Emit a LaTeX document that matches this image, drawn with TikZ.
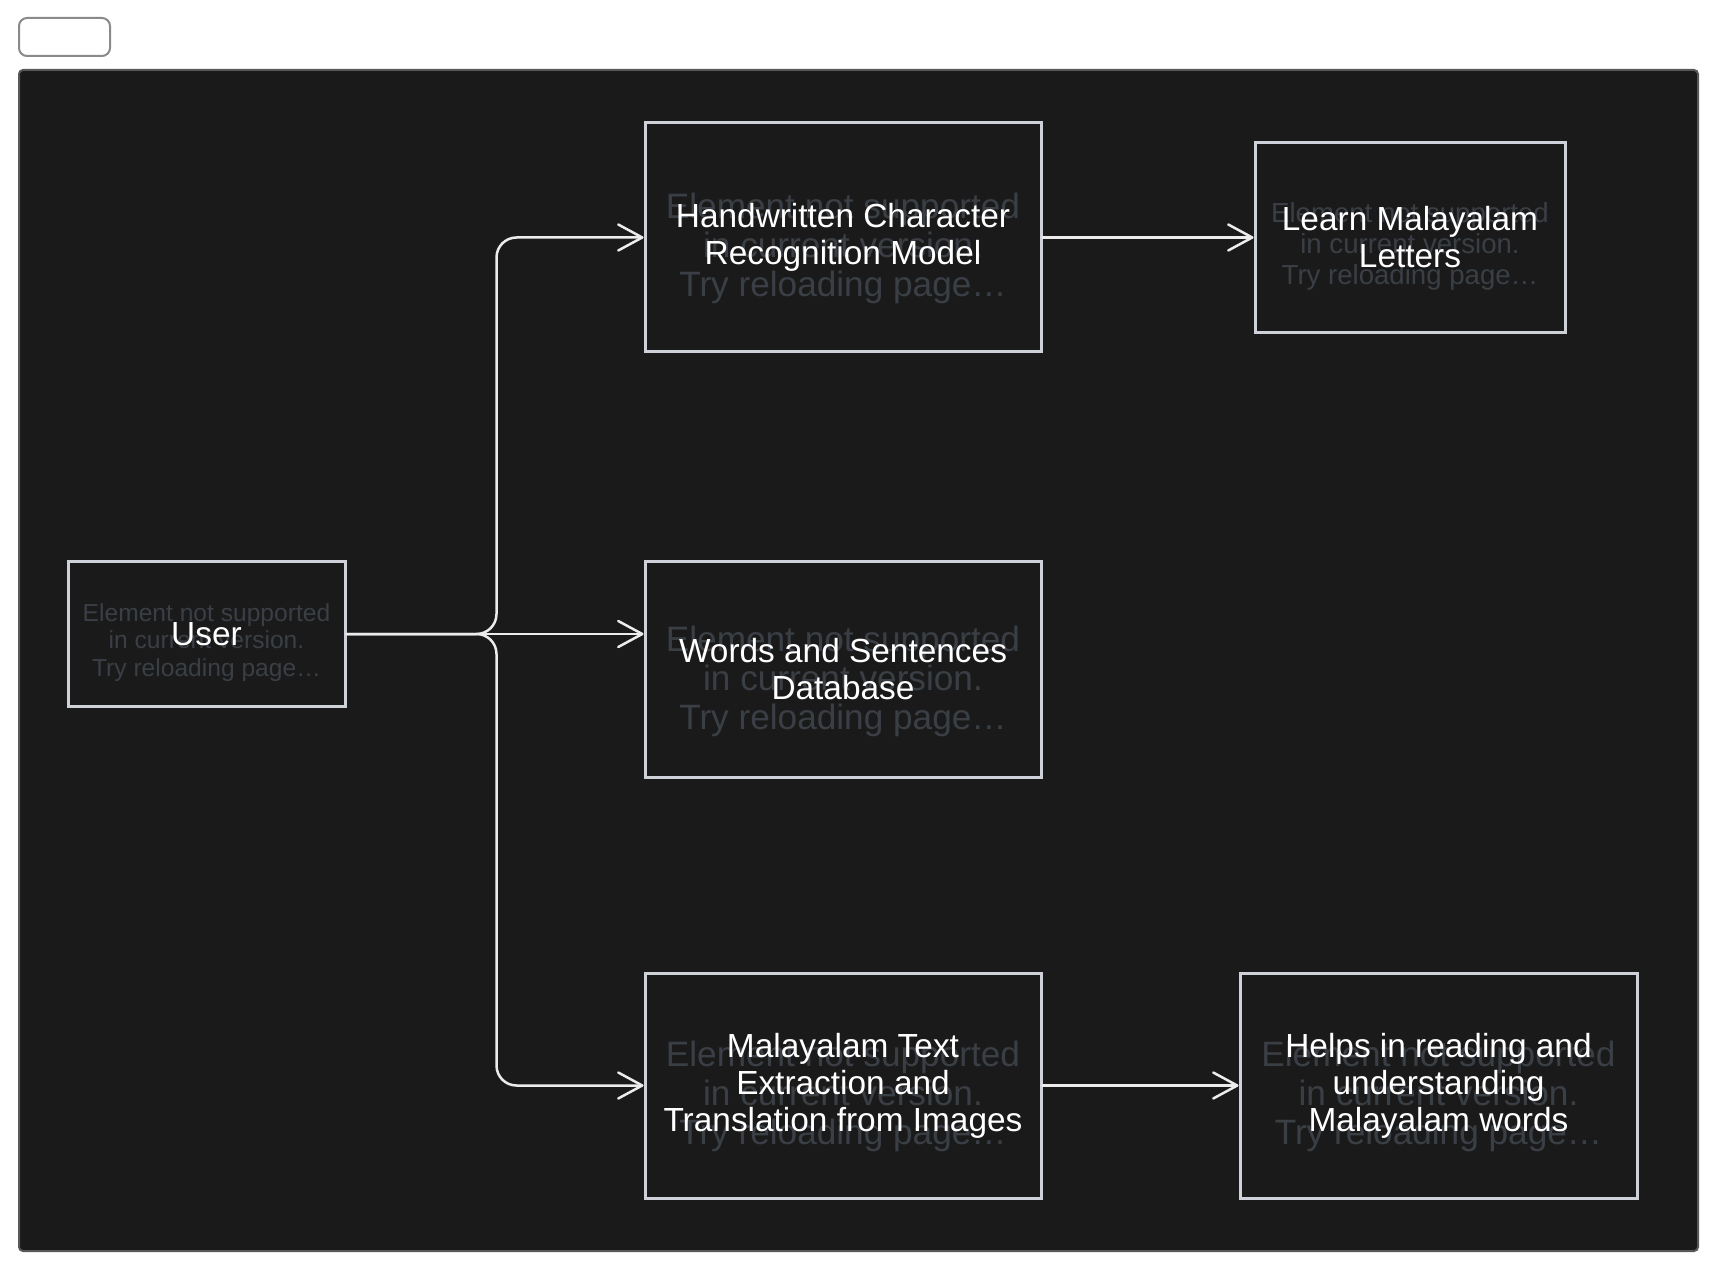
\documentclass[tikz,border=0pt]{standalone}
\usepackage{fontspec}
\setmainfont{Liberation Sans}
\usetikzlibrary{arrows.meta, backgrounds}
\definecolor{canvas}{RGB}{26, 26, 26}
\definecolor{frameline}{RGB}{88, 88, 88}
\definecolor{tabline}{RGB}{138, 138, 138}
\definecolor{boxline}{RGB}{206, 210, 216}
\definecolor{linkwhite}{RGB}{236, 236, 236}
\definecolor{ghostgray}{RGB}{58, 63, 70}

\begin{document}
\begin{tikzpicture}[x=0.5pt, y=-0.5pt,
  box/.style={draw=boxline, line width=1.5pt, text=white, align=center, inner sep=0pt,
    font=\fontsize{16.7}{18.5}\selectfont},
  ghostbig/.style={text=ghostgray, align=center, inner sep=0pt, font=\fontsize{17.6}{19.5}\selectfont},
  ghostmid/.style={text=ghostgray, align=center, inner sep=0pt, font=\fontsize{13.8}{15.5}\selectfont},
  ghostsmall/.style={text=ghostgray, align=center, inner sep=0pt, font=\fontsize{12.3}{13.7}\selectfont},
  link/.style={draw=linkwhite, line width=1.25pt, rounded corners=10pt, line cap=round,
    -{Straight Barb[length=12pt, width=13pt, round]}}]
  \useasboundingbox (0,0) rectangle (1718,1272);

  % boxes
  \node[box, minimum width=138.5pt, minimum height=72pt] (user) at (206.5,634) {User};
  \node[box, minimum width=198pt, minimum height=114.5pt] (hcr) at (843,237.5)
    {Handwritten Character\\Recognition Model};
  \node[box, minimum width=155pt, minimum height=95pt] (learn) at (1410,237.5)
    {Learn Malayalam\\Letters};
  \node[box, minimum width=198pt, minimum height=107.5pt] (words) at (843,669.5)
    {Words and Sentences\\Database};
  \node[box, minimum width=198pt, minimum height=112.5pt] (extract) at (843,1085.5)
    {Malayalam Text\\Extraction and\\Translation from Images};
  \node[box, minimum width=198.5pt, minimum height=112.5pt] (helps) at (1438.5,1085.5)
    {Helps in reading and\\understanding\\Malayalam words};

  % page, tab and placeholder texts
  \begin{scope}[on background layer]
    \fill[white] (0,0) rectangle (1718,1272);
    \draw[tabline, fill=white, line width=1pt, rounded corners=4pt] (19,18) rectangle (110,56);
    \draw[frameline, fill=canvas, line width=1pt, rounded corners=2pt] (19,70) rectangle (1698,1251);
    \node[ghostsmall] (user-g) at ([yshift=-4.2pt]user.center)
      {Element not supported\\in current version.\\Try reloading page…};
    \node[ghostbig] (hcr-g) at ([yshift=-5.4pt]hcr.center)
      {Element not supported\\in current version.\\Try reloading page…};
    \node[ghostmid] (learn-g) at ([yshift=-4.3pt]learn.center)
      {Element not supported\\in current version.\\Try reloading page…};
    \node[ghostbig] (words-g) at ([yshift=-5.8pt]words.center)
      {Element not supported\\in current version.\\Try reloading page…};
    \node[ghostbig] (extract-g) at ([yshift=-5.4pt]extract.center)
      {Element not supported\\in current version.\\Try reloading page…};
    \node[ghostbig] (helps-g) at ([yshift=-5.4pt]helps.center)
      {Element not supported\\in current version.\\Try reloading page…};
  \end{scope}

  % connectors
  \coordinate (fork) at ([xshift=75pt]user.east);
  \draw[link] (user.east) -- (fork) |- (hcr.west);
  \draw[link] (user.east) -- (user.east -| words.west);
  \draw[link] (user.east) -- (fork) |- (extract.west);
  \draw[link] (hcr.east) -- (learn.west);
  \draw[link] (extract.east) -- (helps.west);
\end{tikzpicture}
\end{document}
